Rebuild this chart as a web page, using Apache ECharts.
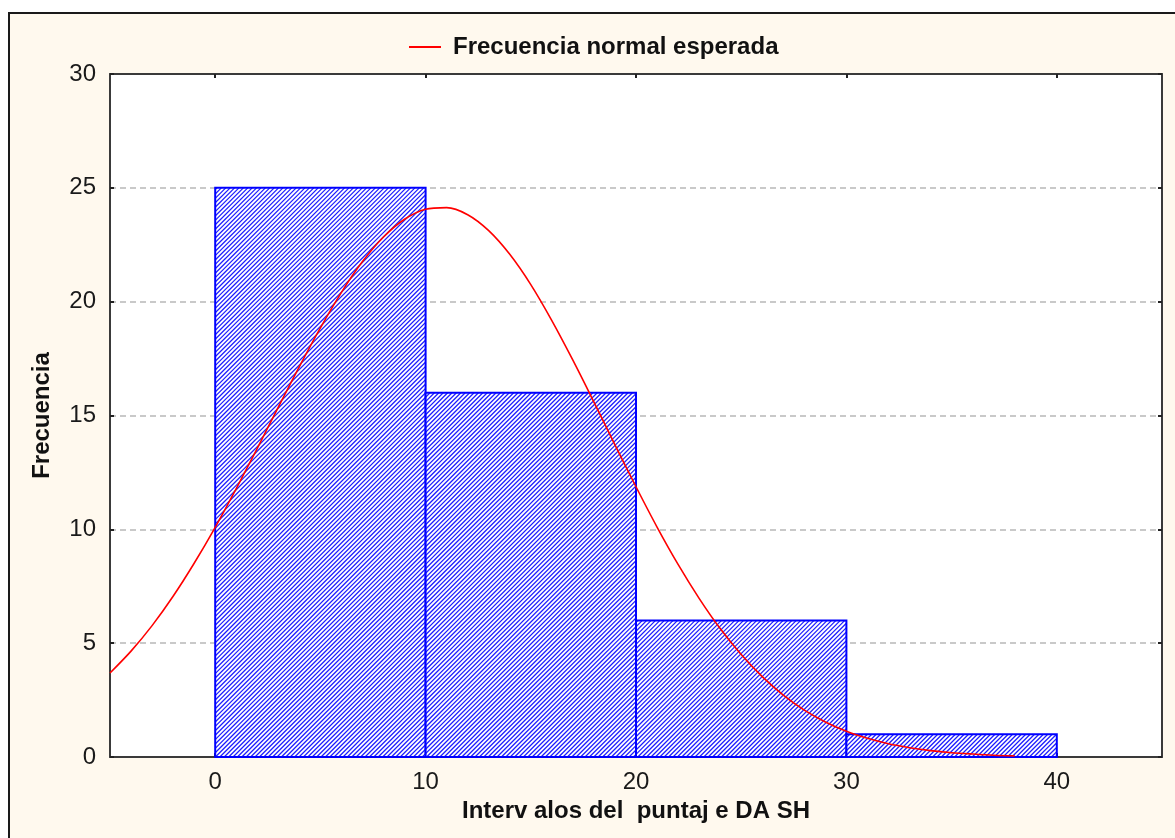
<!DOCTYPE html>
<html>
<head>
<meta charset="utf-8">
<script src="https://cdn.jsdelivr.net/npm/echarts@6/dist/echarts.min.js"></script>
<style>
  html, body { margin: 0; padding: 0; background: #ffffff; overflow: hidden; }
  #frame { position: absolute; left: 8px; top: 12px; width: 1220px; height: 900px;
           border: 2px solid #1a1a1a; background: #FFF9EE; box-sizing: border-box; }
  #chart { position: absolute; left: 0; top: 0; width: 1175px; height: 838px; }
</style>
</head>
<body>
<div id="frame"></div>
<div id="chart"></div>
<script>
// ---- Data ----
const binStarts = [0, 10, 20, 30];
const binEnds = [10, 20, 30, 40];
const frequencies = [25, 16, 6, 1];
const curveX = [-5, -4, -3, -2, -1, 0, 1, 2, 3, 4, 5, 6, 7, 8, 9, 10, 11, 12, 13, 14, 15, 16, 17, 18, 19, 20,
                21, 22, 23, 24, 25, 26, 27, 28, 29, 30, 31, 32, 33, 34, 35, 36, 37, 38];
const curveY = [3.69, 4.65, 5.77, 7.06, 8.51, 10.09, 11.79, 13.56, 15.37, 17.15, 18.85, 20.41, 21.76, 22.84,
                23.62, 24.06, 24.13, 23.82, 23.12, 22.08, 20.75, 19.17, 17.43, 15.59, 13.71, 11.87,
                10.10, 8.46, 6.97, 5.64, 4.50, 3.53, 2.72, 2.06, 1.54, 1.13, 0.82, 0.58, 0.41, 0.28,
                0.19, 0.13, 0.08, 0.05];
const xTicks = [0, 10, 20, 30, 40];
const yTicks = [0, 5, 10, 15, 20, 25, 30];
const legendName = 'Frecuencia normal esperada';
const xName = 'Interv alos del  puntaj e DA SH';
const yName = 'Frecuencia';

const barData = binStarts.map((s, i) => [s, binEnds[i], frequencies[i]]);
const curveData = curveX.map((x, i) => [x, curveY[i]]);

const HATCH = 4.4;   // hatch spacing (style)

const font = '"Liberation Sans", Arial, sans-serif';
const chart = echarts.init(document.getElementById('chart'), null, { renderer: 'canvas' });
const frameLine = { show: true, onZero: false, lineStyle: { color: '#3a3a3a', width: 2 } };

function renderBar(params, api) {
  const p0 = api.coord([api.value(0), 0]);
  const p1 = api.coord([api.value(1), api.value(2)]);
  const x0 = p0[0], x1 = p1[0], y0 = p1[1], y1 = p0[1];
  const children = [{
    type: 'rect', shape: { x: x0, y: y0, width: x1 - x0, height: y1 - y0 },
    style: { fill: '#ffffff' }
  }];
  // "/" hatch lines: x + y = c, aligned to a global grid
  const cStart = Math.ceil((x0 + y0) / HATCH) * HATCH;
  for (let c = cStart; c <= x1 + y1; c += HATCH) {
    const xa = Math.max(x0, c - y1), xb = Math.min(x1, c - y0);
    if (xb <= xa) continue;
    children.push({
      type: 'line', shape: { x1: xa, y1: c - xa, x2: xb, y2: c - xb },
      style: { stroke: '#1c1cff', lineWidth: 1.25 }
    });
  }
  children.push({
    type: 'rect', shape: { x: x0, y: y0, width: x1 - x0, height: y1 - y0 },
    style: { fill: 'none', stroke: '#0000ff', lineWidth: 2 }
  });
  return { type: 'group', children: children };
}

const option = {
  backgroundColor: 'transparent',
  animation: false,
  grid: { left: 110, top: 74, right: 13, bottom: 81, show: true, backgroundColor: '#ffffff',
          borderColor: '#3a3a3a', borderWidth: 0 },
  legend: {
    show: true, left: 404, top: 30, itemWidth: 32, itemHeight: 14,
    icon: 'path://M0,6 L32,6 L32,8 L0,8 Z',
    data: [legendName],
    textStyle: { fontFamily: font, fontSize: 24, fontWeight: 'bold', color: '#111', padding: [0, 0, 0, 7] }
  },
  xAxis: [{
    type: 'value', min: -5, max: 45, interval: 5, position: 'bottom',
    name: xName, nameLocation: 'middle', nameGap: 33,
    nameTextStyle: { fontFamily: font, fontSize: 24, fontWeight: 'bold', color: '#111' },
    axisLine: frameLine,
    axisTick: { show: true, inside: true, length: 4, customValues: xTicks, lineStyle: { color: '#222', width: 2 } },
    axisLabel: { customValues: xTicks, margin: 13, fontFamily: font, fontSize: 24, color: '#1a1a1a',
                 formatter: v => (v % 10 === 0 && v >= 0 && v <= 40) ? String(v) : '' },
    splitLine: { show: false }
  }, {
    type: 'value', min: -5, max: 45, interval: 5, position: 'top',
    axisLine: frameLine,
    axisTick: { show: true, inside: true, length: 4, customValues: xTicks, lineStyle: { color: '#222', width: 2 } },
    axisLabel: { show: false }, splitLine: { show: false }
  }],
  yAxis: [{
    type: 'value', min: 0, max: 30, interval: 5, position: 'left',
    name: yName, nameLocation: 'middle', nameGap: 56, nameRotate: 90,
    nameTextStyle: { fontFamily: font, fontSize: 24, fontWeight: 'bold', color: '#111' },
    axisLine: frameLine,
    axisTick: { show: true, inside: true, length: 4, lineStyle: { color: '#222', width: 2 } },
    axisLabel: { margin: 14, fontFamily: font, fontSize: 24, color: '#1a1a1a' },
    splitLine: { show: true, showMinLine: false, showMaxLine: false,
                 lineStyle: { color: '#b8b8b8', width: 1.5, type: [6, 4] } }
  }, {
    type: 'value', min: 0, max: 30, interval: 5, position: 'right',
    axisLine: frameLine,
    axisTick: { show: true, inside: true, length: 4, lineStyle: { color: '#222', width: 2 } },
    axisLabel: { show: false }, splitLine: { show: false }
  }],
  series: [{
    type: 'custom', name: 'bars', xAxisIndex: 0, yAxisIndex: 0, z: 2,
    data: barData,
    encode: { x: [0, 1], y: 2 },
    renderItem: renderBar
  }, {
    type: 'line', name: legendName, xAxisIndex: 0, yAxisIndex: 0, z: 3,
    data: curveData, smooth: 0.3, symbol: 'none', showSymbol: false,
    itemStyle: { color: '#ff0000' },
    lineStyle: { color: '#ff0000', width: 1.6 }
  }]
};
chart.setOption(option);
</script>
</body>
</html>
